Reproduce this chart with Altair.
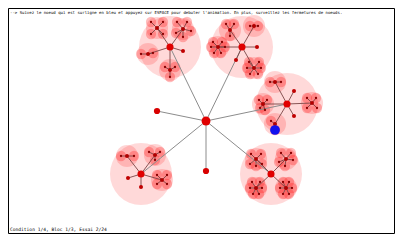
import math
import altair as alt
import pandas as pd

# ---------------- data ----------------
root_x, root_y = 206, 121

cluster_x = [170, 242, 287, 271, 141]
cluster_y = [47, 47, 104, 174, 174]

root_leaf_x = [157, 206]
root_leaf_y = [111, 171]

# sub-cluster centres (children of clusters)
sub_x = [157, 183, 148, 170,   230, 254, 218, 254,   275, 312, 263, 275,   256, 286, 256, 286,   127, 155, 162]
sub_y = [28, 29, 54, 70,       30, 26, 47, 68,       82, 103, 104, 124,   159, 159, 188, 188,   156, 155, 180]
sub_parent = [0, 0, 0, 0,      1, 1, 1, 1,           2, 2, 2, 2,          3, 3, 3, 3,           4, 4, 4]

# leaves directly attached to a cluster centre
cleaf_x = [183, 257, 236, 294, 294, 128, 141]
cleaf_y = [51, 47, 60, 91, 116, 178, 187]
cleaf_parent = [0, 1, 1, 2, 2, 4, 4]

# leaves of sub-clusters
leaf_x = [151, 163, 151, 163,  177, 187, 191, 183, 176,  141, 153,  165, 175, 170,
          226, 234, 230,  250, 258,  213, 222, 211, 225, 214, 221,  249, 259, 247, 261, 250, 258,
          270, 281,  307, 316, 307, 317,  259, 267, 260, 265,  271, 275,
          251, 261, 250, 262, 256,  281, 291, 293, 285, 279,  250, 262, 252, 260, 253, 259,  280, 292, 283, 289, 283, 289,
          121, 134,  149, 160, 155,  157, 167, 157, 167]
leaf_y = [22, 22, 34, 34,  22, 22, 31, 37, 33,  54, 53,  67, 67, 77,
          24, 24, 36,  26, 26,  42, 42, 47, 47, 53, 53,  62, 62, 68, 68, 74, 74,
          82, 82,  98, 98, 108, 108,  100, 100, 108, 110,  121, 130,
          154, 154, 164, 164, 166,  153, 153, 160, 166, 162,  188, 188, 182, 182, 194, 194,  188, 188, 182, 182, 194, 194,
          156, 156,  152, 152, 160,  175, 175, 184, 184]
leaf_parent = [0, 0, 0, 0,  1, 1, 1, 1, 1,  2, 2,  3, 3, 3,
               4, 4, 4,  5, 5,  6, 6, 6, 6, 6, 6,  7, 7, 7, 7, 7, 7,
               8, 8,  9, 9, 9, 9,  10, 10, 10, 10,  11, 11,
               12, 12, 12, 12, 12,  13, 13, 13, 13, 13,  14, 14, 14, 14, 14, 14,  15, 15, 15, 15, 15, 15,
               16, 16,  17, 17, 17,  18, 18, 18, 18]
highlighted_leaf = 42  # blue node

top_text = ("--> Suivez le noeud qui est surligne en bleu et appuyez sur ESPACE pour "
            "debuter l'animation. En plus, surveillez les fermetures de noeuds.")
bottom_text = "Condition 1/4, Bloc 1/3, Essai 2/24"

# ---------------- tables ----------------
clusters = pd.DataFrame({"x": cluster_x, "y": cluster_y})
subs = pd.DataFrame({"x": sub_x, "y": sub_y, "p": sub_parent})
leaves = pd.DataFrame({"x": leaf_x, "y": leaf_y, "p": leaf_parent})
leaves["blue"] = [i == highlighted_leaf for i in range(len(leaves))]
cleaves = pd.DataFrame({"x": cleaf_x, "y": cleaf_y, "p": cleaf_parent})
rleaves = pd.DataFrame({"x": root_leaf_x, "y": root_leaf_y})
root = pd.DataFrame({"x": [root_x], "y": [root_y]})

outer_edges = []
for x, y in list(zip(cluster_x, cluster_y)) + list(zip(root_leaf_x, root_leaf_y)):
    outer_edges.append({"x": root_x, "y": root_y, "x2": x, "y2": y})
outer_edges = pd.DataFrame(outer_edges)

inner = []
for x, y, p in zip(sub_x, sub_y, sub_parent):
    inner.append({"x": cluster_x[p], "y": cluster_y[p], "x2": x, "y2": y})
for x, y, p in zip(cleaf_x, cleaf_y, cleaf_parent):
    inner.append({"x": cluster_x[p], "y": cluster_y[p], "x2": x, "y2": y})
for x, y, p in zip(leaf_x, leaf_y, leaf_parent):
    inner.append({"x": sub_x[p], "y": sub_y[p], "x2": x, "y2": y})
inner_edges = pd.DataFrame(inner)

top_df = pd.DataFrame({"x": [10], "y": [12.5], "t": [top_text]})
bot_df = pd.DataFrame({"x": [10], "y": [229.5], "t": [bottom_text]})
frame = pd.DataFrame({"x": [8.5], "y": [8.5], "x2": [394.5], "y2": [233.5]})

# ---------------- scales (1 unit = 1 page pixel) ----------------
xs = alt.Scale(domain=[8, 395], range=[0, 387], nice=False, zero=False)
ys = alt.Scale(domain=[8, 234], range=[0, 226], nice=False, zero=False)
X = lambda f="x": alt.X(f"{f}:Q", scale=xs, axis=None)
Y = lambda f="y": alt.Y(f"{f}:Q", scale=ys, axis=None)

def area(r):
    return math.pi * r * r

big = alt.Chart(clusters).mark_circle(color="#ff0000", opacity=0.15, size=area(35)).encode(x=X(), y=Y())
subc = alt.Chart(subs).mark_circle(color="#ff0000", opacity=0.17, size=area(12.5)).encode(x=X(), y=Y())
leafc = alt.Chart(leaves).mark_circle(color="#ff0000", opacity=0.26, size=area(5.8)).encode(x=X(), y=Y())

e_out = alt.Chart(outer_edges).mark_rule(color="#8c8c8c", strokeWidth=1).encode(
    x=X(), y=Y(), x2="x2:Q", y2="y2:Q")
e_in = alt.Chart(inner_edges).mark_rule(color="#7a4545", strokeWidth=0.9).encode(
    x=X(), y=Y(), x2="x2:Q", y2="y2:Q")

n_root = alt.Chart(root).mark_circle(color="#e00000", opacity=1, size=area(5)).encode(x=X(), y=Y())
n_cl = alt.Chart(clusters).mark_circle(color="#e00000", opacity=1, size=area(4)).encode(x=X(), y=Y())
n_rl = alt.Chart(rleaves).mark_circle(color="#d80000", opacity=1, size=area(3.5)).encode(x=X(), y=Y())
n_cleaf = alt.Chart(cleaves).mark_circle(color="#c00000", opacity=1, size=area(2.3)).encode(x=X(), y=Y())
n_sub = alt.Chart(subs).mark_circle(color="#b00000", opacity=1, size=area(2.3)).encode(x=X(), y=Y())
n_leaf = alt.Chart(leaves).transform_filter("!datum.blue").mark_circle(
    color="#8a0000", opacity=1, size=area(1.3)).encode(x=X(), y=Y())
n_blue = alt.Chart(leaves).transform_filter("datum.blue").mark_circle(
    color="#1010ee", opacity=1, size=area(5.5)).encode(x=X(), y=Y())

txt_top = alt.Chart(top_df).mark_text(align="left", baseline="middle", font="DejaVu Sans Mono",
                                      fontSize=4.0, color="#000").encode(x=X(), y=Y(), text="t:N")
txt_bot = alt.Chart(bot_df).mark_text(align="left", baseline="middle", font="DejaVu Sans Mono",
                                      fontSize=4.6, color="#000").encode(x=X(), y=Y(), text="t:N")
box = alt.Chart(frame).mark_rect(fill=None, stroke="#000", strokeWidth=1).encode(
    x=X(), y=Y(), x2="x2:Q", y2="y2:Q")

chart = alt.layer(big, subc, leafc, e_out, e_in, n_root, n_cl, n_rl, n_cleaf, n_sub, n_leaf, n_blue,
                  txt_top, txt_bot, box).properties(
    width=387, height=226, autosize="none", padding=0
).configure_view(stroke=None)

chart.save("out.html", embed_options={"renderer": "svg", "actions": False})
